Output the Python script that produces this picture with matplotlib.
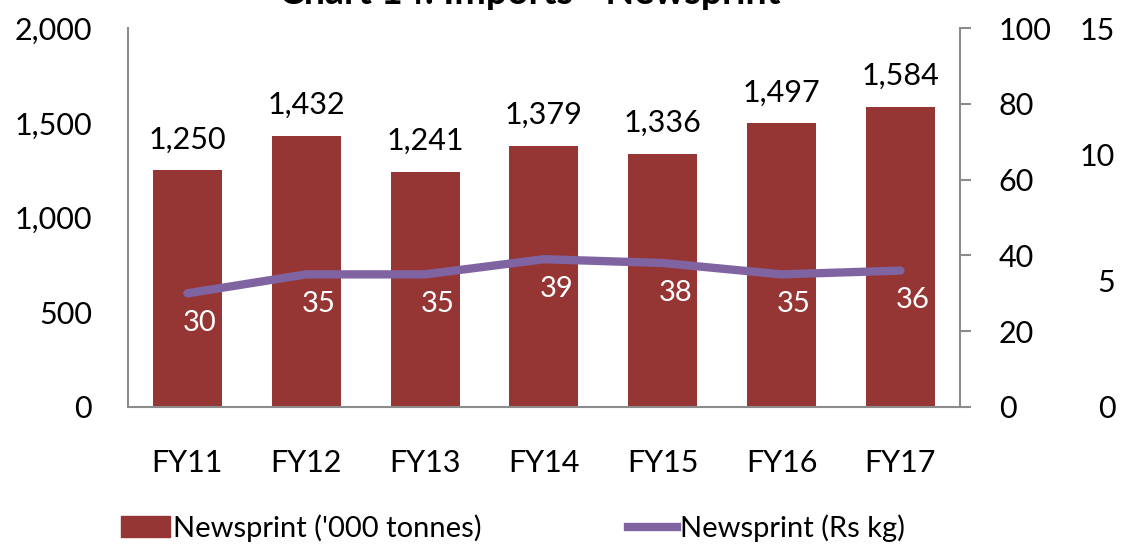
import matplotlib.pyplot as plt
from matplotlib.lines import Line2D
from matplotlib.patches import Patch
import numpy as np

# Data
years = ["FY11", "FY12", "FY13", "FY14", "FY15", "FY16", "FY17"]
volume = [1250, 1432, 1241, 1379, 1336, 1497, 1584]   # '000 tonnes
price = [30, 35, 35, 39, 38, 35, 36]                  # Rs kg

BAR = "#963634"
LINE = "#8064A2"
GREY = "#8c8c8c"

plt.rcParams["font.family"] = ["Lato", "DejaVu Sans"]

fig = plt.figure(figsize=(11.27, 5.5), dpi=100)
ax = fig.add_axes([0.1136, 0.26, 0.738, 0.689])

x = np.arange(len(years))
ax.bar(x, volume, width=0.58, color=BAR, zorder=2)
for xi, v in zip(x, volume):
    ax.annotate(f"{v:,}", (xi, v), xytext=(0, 12), textcoords="offset points",
                ha="center", va="bottom", fontsize=22)

ax.set_xlim(-0.5, len(years) - 0.5)
ax.set_ylim(0, 2000)
ax.set_yticks([0, 500, 1000, 1500, 2000])
ax.set_yticklabels([f"{t:,}" for t in [0, 500, 1000, 1500, 2000]])
ax.set_xticks(x)
ax.set_xticklabels(years)
ax.tick_params(axis="both", labelsize=22, length=0, colors="black")
ax.tick_params(axis="x", pad=30)
ax.tick_params(axis="y", pad=26)
for s in ["top", "right"]:
    ax.spines[s].set_visible(False)
for s in ["left", "bottom"]:
    ax.spines[s].set_color(GREY)
    ax.spines[s].set_linewidth(1.5)

# right axis for price
ax2 = ax.twinx()
ax2.plot(x, price, color=LINE, lw=6, solid_capstyle="round", zorder=3)
for xi, p in zip(x, price):
    ax2.annotate(str(p), (xi, p), xytext=(9, -12), textcoords="offset points",
                 ha="center", va="top", fontsize=21, color="white")
ax2.set_ylim(0, 100)
ax2.set_yticks([0, 20, 40, 60, 80, 100])
ax2.tick_params(axis="y", labelsize=22, length=8, width=1.5, color=GREY, pad=20)
for s in ["top", "left", "bottom"]:
    ax2.spines[s].set_visible(False)
ax2.spines["right"].set_color(GREY)
ax2.spines["right"].set_linewidth(1.5)

# third, unlabelled secondary scale (labels right-aligned)
ax3 = ax.twinx()
ax3.set_ylim(0, 15)
ax3.set_yticks([0, 5, 10, 15])
ax3.tick_params(axis="y", labelsize=22, length=0, pad=112)
for lbl in ax3.get_yticklabels():
    lbl.set_horizontalalignment("right")
for s in ax3.spines.values():
    s.set_visible(False)

fig.text(0.47, 0.993, "Chart 14: Imports - Newsprint", ha="center", va="baseline",
         fontsize=27, fontweight="bold")

handles = [Patch(color=BAR), Line2D([0], [0], color=LINE, lw=6)]
fig.legend(handles, ["Newsprint ('000 tonnes)", "Newsprint (Rs kg)"],
           loc="center", bbox_to_anchor=(0.455, 0.04), ncol=2, frameon=False,
           fontsize=21, handlelength=1.7, handletextpad=0.1, columnspacing=5.0)

fig.savefig("out.png", dpi=100)
